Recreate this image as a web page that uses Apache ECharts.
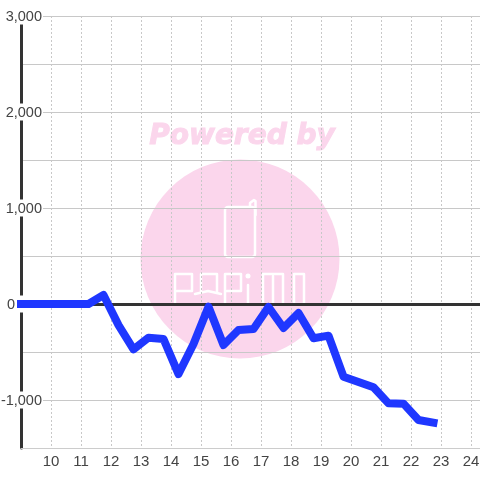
<!DOCTYPE html>
<html><head><meta charset="utf-8">
<style>html,body{margin:0;padding:0;background:#fff}#c{width:480px;height:480px}</style>
<script src="https://cdn.jsdelivr.net/npm/echarts@6/dist/echarts.min.js"></script>
</head><body><div id="c"></div>
<script>
const hours = [9,11.25,11.75,12.25,12.75,13.25,13.75,14.25,14.75,15.25,15.75,16.25,16.75,17.25,17.75,18.25,18.75,19.25,19.75,20.25,20.75,21.25,21.75,22.25,22.75];
const values = [0,0,94,-220,-472,-351,-365,-730,-417,-28,-427,-271,-260,-31,-250,-94,-357,-330,-757,-812,-868,-1035,-1038,-1208,-1236];
const pink = '#fbd6ec';
const font = '"Liberation Sans", Arial, sans-serif';
const chart = echarts.init(document.getElementById('c'), null, {renderer:'canvas'});
const logoLine = pts => ({type:'polyline', z:-1, silent:true, shape:{points:pts}, style:{stroke:'#fff', fill:null, lineWidth:2.5, lineJoin:'round', lineCap:'round'}});
chart.setOption({
  animation:false,
  backgroundColor:'#fff',
  grid:{left:21,right:0,top:16,bottom:32,containLabel:false,outerBoundsMode:'none'},
  graphic:[
    {type:'circle', z:-2, silent:true, shape:{cx:240,cy:259,r:99.5}, style:{fill:pink}},
    {type:'text', z:-2, silent:true, style:{x:242,y:137,text:'Powered by',align:'center',verticalAlign:'middle',fill:pink,stroke:pink,lineWidth:1,font:'italic bold 28px "DejaVu Sans"'}},
    {type:'rect', z:-1, silent:true, shape:{x:225,y:207,width:30,height:50,r:3}, style:{stroke:'#fff',fill:null,lineWidth:2.5}},
    logoLine([[250,207],[250,203],[254,200],[255.5,201],[255.5,215]]),
    logoLine([[175,304],[175,274],[192,274],[192,291],[177,291]]),
    logoLine([[201,292],[201,274],[217,274],[217,292]]),
    logoLine([[195,294],[208,291],[221,294]]),
    logoLine([[225,304],[225,274],[241,274],[241,291],[227,291]]),
    logoLine([[248,285],[248,304]]),
    {type:'circle', z:-1, silent:true, shape:{cx:248,cy:276,r:2.5}, style:{fill:'#fff'}},
    logoLine([[263,304],[263,274],[283,274],[283,304]]),
    logoLine([[273,276],[273,304]]),
    logoLine([[294,274],[304,274],[304,304],[294,304],[294,274]])
  ],
  xAxis:[{
    type:'value',min:9,max:24.3,interval:1,
    axisLine:{onZero:false,lineStyle:{color:'#ccc',width:1}},
    axisTick:{show:false},
    axisLabel:{color:'#444',fontFamily:font,fontSize:15,margin:6,showMinLabel:false,showMaxLabel:false,
      formatter:v=>(v>=10&&v<=24&&Number.isInteger(v))?String(v):''},
    splitLine:{show:true,lineStyle:{color:'#c8c8c8',width:1,type:[2,2]}}
  },{
    type:'value',min:9,max:24.3,interval:1,
    axisLine:{onZero:true,lineStyle:{color:'#333',width:3}},
    axisTick:{show:false},axisLabel:{show:false},splitLine:{show:false}
  }],
  yAxis:{
    type:'value',min:-1500,max:3000,interval:500,
    axisLine:{show:true,onZero:false,lineStyle:{color:'#333',width:3}},
    axisTick:{show:false},
    axisLabel:{color:'#444',fontFamily:font,fontSize:14.5,margin:-22,backgroundColor:'#fff',padding:[2,1,0,1],
      formatter:v=>v===0?'{z|0}':(v%1000===0?v.toLocaleString('en-US'):''),
      rich:{z:{color:'#444',fontFamily:font,fontSize:14.5,padding:[0,27,0,0]}}},
    splitLine:{show:true,lineStyle:{color:'#c8c8c8',width:1}}
  },
  series:[{
    type:'line',xAxisIndex:0,data:hours.map((h,i)=>[h,values[i]]),
    showSymbol:false,smooth:false,clip:false,z:5,
    lineStyle:{color:'#1f37ff',width:8,cap:'square',join:'round'}
  }]
});
</script></body></html>
